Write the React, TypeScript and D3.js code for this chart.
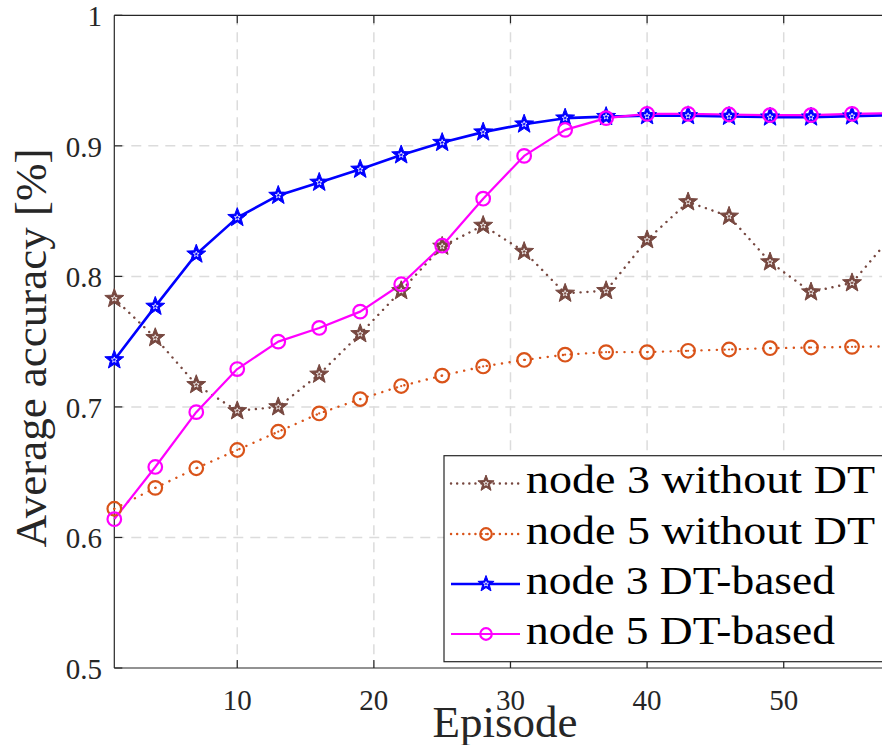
import React from "react";
import * as d3 from "d3";

const episodes = [1, 4, 7, 10, 13, 16, 19, 22, 25, 28, 31, 34, 37, 40, 43, 46, 49, 52, 55, 58];
const node3WithoutDT = [0.783, 0.753, 0.717, 0.697, 0.700, 0.725, 0.756, 0.789, 0.823, 0.839, 0.819, 0.787, 0.789, 0.828, 0.857, 0.846, 0.811, 0.788, 0.795, 0.832];
const node5WithoutDT = [0.622, 0.638, 0.653, 0.667, 0.681, 0.695, 0.706, 0.716, 0.724, 0.731, 0.736, 0.740, 0.742, 0.742, 0.743, 0.744, 0.745, 0.7455, 0.746, 0.7465];
const node3DT = [0.736, 0.777, 0.817, 0.845, 0.862, 0.872, 0.882, 0.893, 0.9025, 0.9105, 0.9166, 0.9212, 0.9224, 0.923, 0.923, 0.9225, 0.922, 0.922, 0.9228, 0.9235];
const node5DT = [0.614, 0.654, 0.696, 0.729, 0.750, 0.7605, 0.773, 0.794, 0.8235, 0.8595, 0.8923, 0.9122, 0.9212, 0.9245, 0.9245, 0.924, 0.9235, 0.9235, 0.9245, 0.925];

const xTicks = [10, 20, 30, 40, 50];
const yTicks = [0.5, 0.6, 0.7, 0.8, 0.9, 1];
const yTickLabels = ["0.5", "0.6", "0.7", "0.8", "0.9", "1"];
const legendLabels = ["node 3 without DT", "node 5 without DT", "node 3 DT-based", "node 5 DT-based"];

const W = 882;
const H = 745;
const left = 114.3;
const right = 893;
const top = 15.3;
const bottom = 668;

const AX = "#262626";
const BROWN = "#774840";
const ORANGE = "#D95319";
const BLUE = "#0000FF";
const MAGENTA = "#FF00FF";

function starPath(cx: number, cy: number, R: number): string {
  const r = R * 0.42;
  const pts: [number, number][] = [];
  for (let i = 0; i < 10; i++) {
    const a = -Math.PI / 2 + (i * Math.PI) / 5;
    const rad = i % 2 === 0 ? R : r;
    pts.push([cx + rad * Math.cos(a), cy + rad * Math.sin(a)]);
  }
  return "M" + pts.map((p) => p[0].toFixed(2) + "," + p[1].toFixed(2)).join("L") + "Z";
}

type Series = {
  values: number[];
  color: string;
  width: number;
  dash?: string;
  marker: "star" | "circle";
};

const series: Series[] = [
  { values: node3WithoutDT, color: BROWN, width: 2.4, dash: "0.1 6.8", marker: "star" },
  { values: node5WithoutDT, color: ORANGE, width: 2.4, dash: "0.1 7.6", marker: "circle" },
  { values: node3DT, color: BLUE, width: 2.6, marker: "star" },
  { values: node5DT, color: MAGENTA, width: 2.2, marker: "circle" },
];

function Marker({ s, x, y, size = 1 }: { s: Series; x: number; y: number; size?: number }) {
  if (s.marker === "star") {
    return (
      <g>
        <path d={starPath(x, y, 10 * size)} fill={s.color} stroke={s.color} strokeWidth={1} strokeLinejoin="miter" />
        <path d={starPath(x, y, 3 * size)} fill="none" stroke="#ffffff" strokeWidth={0.8} />
      </g>
    );
  }
  return (
    <g>
      <circle cx={x} cy={y} r={6.8 * size} fill="none" stroke={s.color} strokeWidth={2.2} />
      {s.dash ? <circle cx={x} cy={y} r={1.1} fill={s.color} /> : null}
    </g>
  );
}

export default function App() {
  const x = d3.scaleLinear().domain([1, 58]).range([left, right]);
  const y = d3.scaleLinear().domain([0.5, 1]).range([bottom, top]);
  const line = d3
    .line<number>()
    .x((_, i) => x(episodes[i]))
    .y((d) => y(d));

  const legendX = 444;
  const legendY = 455.7;
  const legendH = 206;
  const rowY = [483.5, 534, 584, 634];
  const textLens = [349, 349, 309, 309];

  return (
    <div style={{ position: "absolute", left: 0, top: 0, width: W, height: H, background: "#fff" }}>
      <svg width={W} height={H} style={{ display: "block" }} fontFamily="'Liberation Serif', 'Times New Roman', serif">
        <rect x={0} y={0} width={W} height={H} fill="#fff" />
        {/* grid */}
        {xTicks.map((t) => (
          <line key={"gx" + t} x1={x(t)} x2={x(t)} y1={top} y2={bottom} stroke="#dcdcdc" strokeWidth={1.5} strokeDasharray="10 7" />
        ))}
        {yTicks.slice(1, -1).map((t) => (
          <line key={"gy" + t} x1={left} x2={W + 20} y1={y(t)} y2={y(t)} stroke="#dcdcdc" strokeWidth={1.5} strokeDasharray="10 7" />
        ))}
        {/* axes box */}
        <line x1={left} x2={W + 20} y1={top} y2={top} stroke={AX} strokeWidth={1.2} />
        <line x1={left} x2={W + 20} y1={bottom} y2={bottom} stroke={AX} strokeWidth={1.2} />
        <line x1={left} x2={left} y1={top} y2={bottom} stroke={AX} strokeWidth={1.2} />
        {/* ticks */}
        {xTicks.map((t) => (
          <g key={"tx" + t}>
            <line x1={x(t)} x2={x(t)} y1={bottom} y2={bottom - 8} stroke={AX} strokeWidth={1.2} />
            <line x1={x(t)} x2={x(t)} y1={top} y2={top + 8} stroke={AX} strokeWidth={1.2} />
            <text x={x(t)} y={710} fontSize={29} textAnchor="middle" fill={AX}>
              {t}
            </text>
          </g>
        ))}
        {yTicks.map((t, i) => (
          <g key={"ty" + t}>
            <line x1={left} x2={left + 8} y1={y(t)} y2={y(t)} stroke={AX} strokeWidth={1.2} />
            <text x={102} y={y(t) + 11} fontSize={29} textAnchor="end" fill={AX}>
              {yTickLabels[i]}
            </text>
          </g>
        ))}
        {/* series lines */}
        {series.map((s, k) => (
          <path
            key={"l" + k}
            d={line(s.values) || ""}
            fill="none"
            stroke={s.color}
            strokeWidth={s.width}
            strokeDasharray={s.dash}
            strokeLinecap={s.dash ? "round" : "butt"}
            strokeLinejoin="round"
          />
        ))}
        {/* markers */}
        {series.map((s, k) => (
          <g key={"m" + k}>
            {s.values.map((v, i) => (
              <Marker key={i} s={s} x={x(episodes[i])} y={y(v)} />
            ))}
          </g>
        ))}
        {/* axis labels */}
        <text x={505} y={737} fontSize={45} textAnchor="middle" fill={AX}>
          Episode
        </text>
        <text transform="translate(46,348) rotate(-90)" fontSize={45} textAnchor="middle" fill={AX}>
          Average accuracy [%]
        </text>
        {/* legend */}
        <rect x={legendX} y={legendY} width={W - legendX + 20} height={legendH} fill="#fff" stroke={AX} strokeWidth={1.2} />
        {series.map((s, k) => (
          <g key={"lg" + k}>
            <line
              x1={451}
              x2={520}
              y1={rowY[k]}
              y2={rowY[k]}
              stroke={s.color}
              strokeWidth={s.width}
              strokeDasharray={s.dash ? "0.1 6" : undefined}
              strokeLinecap={s.dash ? "round" : "butt"}
            />
            <Marker s={s} x={486} y={rowY[k]} size={0.85} />
            <text x={526} y={rowY[k] + 9.5} fontSize={39} fill="#000" textLength={textLens[k]} lengthAdjust="spacingAndGlyphs">
              {legendLabels[k]}
            </text>
          </g>
        ))}
      </svg>
    </div>
  );
}
